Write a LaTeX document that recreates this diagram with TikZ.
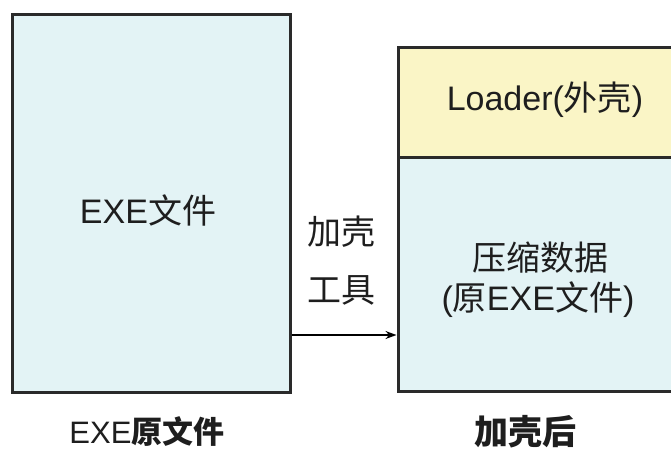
\documentclass[tikz,border=0pt]{standalone}
\usepackage{fontspec}
\setmainfont{Liberation Sans}
\newfontfamily\cjk{Noto Sans CJK SC}
\usetikzlibrary{arrows.meta}
\definecolor{boxcyan}{HTML}{E3F3F5}
\definecolor{boxyellow}{HTML}{FAF5C6}
\definecolor{edge}{HTML}{2A2A2A}
\definecolor{ink}{HTML}{1E1E1E}
\tikzset{
  blk/.style={draw=edge, line width=3pt, rectangle, inner sep=0pt, text=ink},
  lbl/.style={text=ink, inner sep=0pt, font=\fontsize{34}{40}\selectfont},
}
\begin{document}
\begin{tikzpicture}[x=1pt,y=-1pt]
\useasboundingbox (0,0) rectangle (671,450);
\clip (0,0) rectangle (671,450);
\fill[white] (0,0) rectangle (671,450);
\node[blk, fill=boxcyan, minimum width=278pt, minimum height=378pt] (L) at (151,203) {};
\node[lbl] (Ltxt) at (148,210) {EXE{\cjk 文件}};
\node[blk, fill=boxyellow, minimum width=294pt, minimum height=110pt] (T) at (545,102) {};
\node[lbl] (Ttxt) at (545,100) {Loader({\cjk 外壳})};
\node[blk, fill=boxcyan, minimum width=294pt, minimum height=234pt] (B) at (545,274) {};
\node[lbl] (B1) at (540,258) {\cjk 压缩数据};
\node[lbl] (B2) at (538,300) {({\cjk 原}EXE{\cjk 文件})};
\node[lbl] (t1) at (341,232) {\cjk 加壳};
\node[lbl] (t2) at (341,290) {\cjk 工具};
\coordinate (ay) at (0,335);
\draw[line width=1.4pt, -{Stealth[length=11pt,width=8pt]}, black] (L.east |- ay) -- (B.west |- ay);
\node[lbl] (capL) at (147,432) {\fontsize{31}{36}\selectfont EXE{\cjk\bfseries 原文件}};
\node[lbl] (capR) at (525,432) {\cjk\bfseries 加壳后};
\end{tikzpicture}
\end{document}
